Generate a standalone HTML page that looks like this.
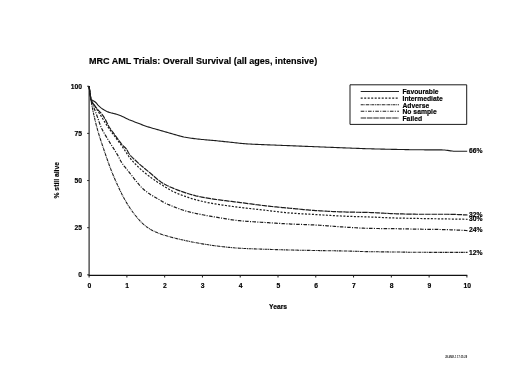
<!DOCTYPE html>
<html lang="en">
<head>
<meta charset="utf-8">
<title>MRC AML Trials: Overall Survival</title>
<style>
html,body{margin:0;padding:0;background:#fff;}
body{width:520px;height:367px;overflow:hidden;}
svg{display:block;}
</style>
</head>
<body>
<svg width="520" height="367" viewBox="0 0 520 367">
<rect width="520" height="367" fill="#fff"/>
<g font-family="'Liberation Sans', Arial, sans-serif" font-weight="bold" fill="#000" stroke="#000" stroke-width="0.16" stroke-linejoin="round">
<text x="88.9" y="63.8" font-size="9.05">MRC AML Trials: Overall Survival (all ages, intensive)</text>
<g stroke="#1a1a1a" stroke-width="1.1" fill="none">
<path d="M89.10 85.95 V275.30"/>
<path d="M88.55 275.30 H467.30" stroke="#111" stroke-width="1.35"/>
<path d="M87.10 274.85 H89.10" stroke-width="0.9"/>
<path d="M87.10 227.70 H89.10" stroke-width="0.9"/>
<path d="M87.10 180.55 H89.10" stroke-width="0.9"/>
<path d="M87.10 133.40 H89.10" stroke-width="0.9"/>
<path d="M87.10 86.25 H89.10" stroke-width="0.9"/>
<path d="M89.10 275.30 V277.50" stroke-width="1"/>
<path d="M126.88 275.30 V277.50" stroke-width="1"/>
<path d="M164.66 275.30 V277.50" stroke-width="1"/>
<path d="M202.44 275.30 V277.50" stroke-width="1"/>
<path d="M240.22 275.30 V277.50" stroke-width="1"/>
<path d="M278.00 275.30 V277.50" stroke-width="1"/>
<path d="M315.78 275.30 V277.50" stroke-width="1"/>
<path d="M353.56 275.30 V277.50" stroke-width="1"/>
<path d="M391.34 275.30 V277.50" stroke-width="1"/>
<path d="M429.12 275.30 V277.50" stroke-width="1"/>
<path d="M466.90 275.30 V277.50" stroke-width="1"/>
</g>
<text x="82" y="277.25" font-size="6.75" text-anchor="end">0</text>
<text x="82" y="230.10" font-size="6.75" text-anchor="end">25</text>
<text x="82" y="182.95" font-size="6.75" text-anchor="end">50</text>
<text x="82" y="135.80" font-size="6.75" text-anchor="end">75</text>
<text x="82" y="88.65" font-size="6.75" text-anchor="end">100</text>
<text x="89.40" y="288.4" font-size="6.75" text-anchor="middle">0</text>
<text x="127.18" y="288.4" font-size="6.75" text-anchor="middle">1</text>
<text x="164.96" y="288.4" font-size="6.75" text-anchor="middle">2</text>
<text x="202.74" y="288.4" font-size="6.75" text-anchor="middle">3</text>
<text x="240.52" y="288.4" font-size="6.75" text-anchor="middle">4</text>
<text x="278.30" y="288.4" font-size="6.75" text-anchor="middle">5</text>
<text x="316.08" y="288.4" font-size="6.75" text-anchor="middle">6</text>
<text x="353.86" y="288.4" font-size="6.75" text-anchor="middle">7</text>
<text x="391.64" y="288.4" font-size="6.75" text-anchor="middle">8</text>
<text x="429.42" y="288.4" font-size="6.75" text-anchor="middle">9</text>
<text x="467.20" y="288.4" font-size="6.75" text-anchor="middle">10</text>
<text x="278.1" y="308.6" font-size="6.75" text-anchor="middle">Years</text>
<text transform="translate(59.4 180.3) rotate(-90)" font-size="6.75" text-anchor="middle">% still alive</text>
<g fill="none" stroke="#1c1c1c" stroke-linejoin="round">
<path d="M89.10 86.40 L90.90 99.60 L92.33 100.22 L93.66 100.95 L94.90 101.77 L96.01 102.73 L97.00 103.88 L97.99 105.06 L99.05 106.13 L100.18 107.15 L101.35 108.12 L102.56 109.01 L103.83 109.82 L105.14 110.58 L106.50 111.28 L107.88 111.88 L109.29 112.37 L110.74 112.77 L112.21 113.14 L113.69 113.49 L115.16 113.86 L116.61 114.30 L118.04 114.79 L119.46 115.31 L120.87 115.86 L122.26 116.44 L123.65 117.04 L125.00 117.71 L126.35 118.40 L127.70 119.08 L129.07 119.70 L130.47 120.27 L131.88 120.82 L133.29 121.35 L134.71 121.89 L136.12 122.43 L137.52 122.98 L138.93 123.54 L140.34 124.09 L141.75 124.63 L143.16 125.17 L144.58 125.69 L146.00 126.20 L147.43 126.68 L148.87 127.14 L150.31 127.57 L151.76 128.00 L153.21 128.41 L154.67 128.81 L156.13 129.22 L157.59 129.62 L159.04 130.03 L160.49 130.44 L161.95 130.86 L163.40 131.29 L164.85 131.71 L166.30 132.13 L167.75 132.55 L169.20 132.97 L170.65 133.38 L172.11 133.79 L173.56 134.20 L175.02 134.61 L176.47 135.04 L177.93 135.46 L179.38 135.87 L180.84 136.26 L182.31 136.62 L183.78 136.96 L185.25 137.25 L186.74 137.51 L188.22 137.76 L189.72 137.99 L191.21 138.21 L192.71 138.41 L194.22 138.61 L195.72 138.79 L197.22 138.97 L198.72 139.13 L200.22 139.29 L201.72 139.43 L203.23 139.57 L204.73 139.70 L206.24 139.83 L207.74 139.96 L209.25 140.08 L210.76 140.21 L212.26 140.34 L213.77 140.48 L215.27 140.63 L216.77 140.78 L218.27 140.94 L219.78 141.10 L221.28 141.26 L222.78 141.42 L224.28 141.59 L225.78 141.75 L227.29 141.92 L228.79 142.07 L230.29 142.23 L231.79 142.39 L233.30 142.55 L234.80 142.71 L236.30 142.88 L237.80 143.04 L239.31 143.20 L240.81 143.35 L242.31 143.49 L243.82 143.63 L245.32 143.75 L246.83 143.86 L248.33 143.95 L249.84 144.04 L251.35 144.12 L252.86 144.20 L254.36 144.28 L255.87 144.35 L257.38 144.41 L258.89 144.48 L260.40 144.54 L261.91 144.60 L263.42 144.66 L264.93 144.72 L266.44 144.78 L267.95 144.83 L269.46 144.89 L270.97 144.94 L272.48 145.00 L273.99 145.06 L275.50 145.12 L277.01 145.18 L278.52 145.24 L280.03 145.30 L281.54 145.37 L283.05 145.43 L284.56 145.49 L286.07 145.55 L287.58 145.61 L289.09 145.67 L290.60 145.73 L292.10 145.79 L293.61 145.85 L295.12 145.91 L296.63 145.97 L298.14 146.03 L299.65 146.09 L301.16 146.15 L302.67 146.21 L304.18 146.27 L305.69 146.33 L307.20 146.39 L308.71 146.45 L310.22 146.51 L311.73 146.57 L313.24 146.63 L314.75 146.69 L316.26 146.75 L317.77 146.81 L319.27 146.87 L320.78 146.93 L322.29 146.99 L323.80 147.06 L325.31 147.12 L326.82 147.18 L328.33 147.24 L329.84 147.30 L331.35 147.36 L332.86 147.42 L334.37 147.48 L335.88 147.54 L337.39 147.60 L338.90 147.66 L340.41 147.72 L341.92 147.78 L343.43 147.84 L344.94 147.90 L346.44 147.95 L347.95 148.01 L349.46 148.07 L350.97 148.13 L352.48 148.19 L353.99 148.25 L355.50 148.30 L357.01 148.36 L358.52 148.42 L360.03 148.47 L361.54 148.53 L363.05 148.58 L364.56 148.63 L366.07 148.68 L367.58 148.73 L369.09 148.77 L370.60 148.82 L372.11 148.86 L373.62 148.90 L375.13 148.94 L376.64 148.98 L378.15 149.02 L379.66 149.06 L381.17 149.10 L382.68 149.13 L384.19 149.17 L385.70 149.20 L387.21 149.24 L388.72 149.27 L390.23 149.30 L391.74 149.34 L393.25 149.37 L394.76 149.40 L396.27 149.42 L397.78 149.45 L399.29 149.48 L400.80 149.51 L402.31 149.54 L403.83 149.57 L405.34 149.60 L406.85 149.63 L408.36 149.65 L409.87 149.68 L411.38 149.70 L412.89 149.72 L414.40 149.74 L415.91 149.76 L417.42 149.78 L418.93 149.79 L420.44 149.80 L421.95 149.81 L423.46 149.82 L424.97 149.83 L426.49 149.83 L428.00 149.84 L429.51 149.84 L431.02 149.84 L432.53 149.85 L434.04 149.85 L435.56 149.86 L437.07 149.87 L438.57 149.87 L440.08 149.88 L441.59 149.90 L443.10 149.93 L444.60 150.04 L446.10 150.21 L447.60 150.41 L449.11 150.63 L450.61 150.85 L452.11 151.04 L453.61 151.20 L455.12 151.28 L456.62 151.30 L458.13 151.30 L459.64 151.30 L461.15 151.30 L462.66 151.30 L464.17 151.30 L465.69 151.30 L467.20 151.30" stroke-width="1.10"/>
<path d="M89.10 86.40 L91.00 100.20 L91.81 101.48 L92.64 102.75 L93.49 103.99 L94.37 105.22 L95.26 106.43 L96.18 107.63 L97.10 108.81 L98.06 109.96 L99.09 111.07 L100.13 112.17 L101.15 113.28 L102.09 114.45 L102.96 115.67 L103.80 116.93 L104.60 118.22 L105.35 119.52 L106.05 120.85 L106.69 122.22 L107.33 123.59 L107.99 124.94 L108.73 126.24 L109.52 127.52 L110.35 128.77 L111.21 130.01 L112.09 131.24 L112.99 132.45 L113.90 133.67 L114.80 134.88 L115.70 136.09 L116.59 137.31 L117.47 138.53 L118.36 139.76 L119.25 140.98 L120.16 142.18 L121.08 143.37 L122.03 144.54 L123.02 145.66 L124.12 146.72 L125.23 147.76 L126.25 148.85 L127.09 150.07 L127.79 151.42 L128.49 152.78 L129.30 154.02 L130.22 155.18 L131.20 156.30 L132.25 157.39 L133.34 158.46 L134.45 159.50 L135.58 160.53 L136.70 161.56 L137.80 162.58 L138.91 163.60 L140.04 164.60 L141.17 165.59 L142.32 166.56 L143.48 167.53 L144.64 168.50 L145.80 169.45 L146.97 170.41 L148.14 171.37 L149.30 172.32 L150.46 173.29 L151.61 174.27 L152.76 175.27 L153.90 176.27 L155.04 177.28 L156.19 178.27 L157.35 179.25 L158.53 180.20 L159.72 181.11 L160.93 181.98 L162.17 182.79 L163.44 183.56 L164.74 184.29 L166.07 184.99 L167.42 185.67 L168.79 186.32 L170.17 186.95 L171.56 187.56 L172.96 188.16 L174.35 188.74 L175.74 189.30 L177.14 189.85 L178.55 190.38 L179.96 190.90 L181.38 191.41 L182.81 191.91 L184.24 192.39 L185.68 192.86 L187.12 193.32 L188.56 193.76 L190.00 194.20 L191.44 194.62 L192.89 195.04 L194.35 195.43 L195.81 195.81 L197.27 196.15 L198.74 196.47 L200.22 196.77 L201.69 197.06 L203.18 197.35 L204.66 197.62 L206.14 197.88 L207.63 198.14 L209.12 198.38 L210.61 198.62 L212.10 198.86 L213.59 199.09 L215.08 199.31 L216.57 199.53 L218.06 199.74 L219.55 199.95 L221.04 200.15 L222.54 200.34 L224.03 200.54 L225.53 200.72 L227.02 200.91 L228.52 201.09 L230.02 201.27 L231.51 201.45 L233.01 201.63 L234.51 201.81 L236.00 202.00 L237.50 202.18 L238.99 202.37 L240.49 202.56 L241.98 202.76 L243.48 202.96 L244.97 203.16 L246.46 203.36 L247.96 203.56 L249.45 203.76 L250.94 203.96 L252.44 204.17 L253.93 204.37 L255.42 204.56 L256.92 204.76 L258.41 204.95 L259.91 205.14 L261.40 205.33 L262.90 205.51 L264.39 205.68 L265.89 205.85 L267.39 206.02 L268.89 206.18 L270.39 206.34 L271.88 206.49 L273.38 206.65 L274.88 206.80 L276.38 206.95 L277.88 207.09 L279.38 207.24 L280.88 207.39 L282.38 207.53 L283.88 207.67 L285.38 207.81 L286.88 207.96 L288.38 208.10 L289.88 208.24 L291.38 208.38 L292.88 208.53 L294.38 208.67 L295.88 208.82 L297.38 208.97 L298.88 209.12 L300.38 209.26 L301.88 209.41 L303.38 209.55 L304.89 209.69 L306.39 209.83 L307.89 209.96 L309.39 210.08 L310.89 210.20 L312.39 210.32 L313.89 210.43 L315.40 210.53 L316.90 210.62 L318.40 210.72 L319.91 210.81 L321.41 210.90 L322.92 210.99 L324.42 211.08 L325.92 211.17 L327.43 211.25 L328.93 211.33 L330.44 211.41 L331.95 211.49 L333.45 211.56 L334.96 211.63 L336.46 211.69 L337.97 211.76 L339.47 211.82 L340.98 211.87 L342.49 211.92 L343.99 211.97 L345.50 212.01 L347.00 212.05 L348.51 212.09 L350.02 212.12 L351.52 212.15 L353.03 212.18 L354.54 212.20 L356.04 212.23 L357.55 212.25 L359.06 212.27 L360.56 212.30 L362.07 212.32 L363.58 212.35 L365.08 212.38 L366.59 212.41 L368.10 212.45 L369.60 212.49 L371.11 212.53 L372.61 212.59 L374.12 212.66 L375.62 212.73 L377.13 212.81 L378.63 212.89 L380.14 212.98 L381.64 213.07 L383.15 213.16 L384.65 213.26 L386.16 213.34 L387.66 213.43 L389.17 213.51 L390.67 213.58 L392.18 213.65 L393.68 213.71 L395.19 213.76 L396.69 213.80 L398.20 213.84 L399.71 213.89 L401.21 213.93 L402.72 213.97 L404.23 214.01 L405.73 214.05 L407.24 214.08 L408.75 214.12 L410.25 214.15 L411.76 214.17 L413.27 214.20 L414.77 214.22 L416.28 214.23 L417.79 214.24 L419.29 214.25 L420.80 214.25 L422.31 214.25 L423.81 214.25 L425.32 214.25 L426.83 214.25 L428.33 214.25 L429.84 214.25 L431.35 214.25 L432.86 214.25 L434.36 214.25 L435.87 214.25 L437.38 214.25 L438.88 214.25 L440.39 214.25 L441.90 214.25 L443.40 214.25 L444.91 214.25 L446.42 214.25 L447.92 214.27 L449.43 214.29 L450.93 214.32 L452.44 214.36 L453.95 214.41 L455.45 214.46 L456.96 214.51 L458.47 214.58 L459.97 214.64 L461.48 214.71 L462.98 214.78 L464.49 214.85 L465.99 214.93 L467.50 215.00" stroke-width="1.20" stroke-dasharray="5.5 0.8"/>
<path d="M89.10 86.40 L91.00 100.20 L91.82 101.47 L92.63 102.73 L93.45 104.00 L94.26 105.27 L95.07 106.53 L95.88 107.80 L96.69 109.07 L97.50 110.34 L98.31 111.62 L99.11 112.89 L99.92 114.16 L100.71 115.44 L101.50 116.72 L102.29 118.01 L103.08 119.29 L103.86 120.58 L104.66 121.86 L105.46 123.13 L106.28 124.40 L107.10 125.65 L107.94 126.90 L108.79 128.14 L109.65 129.37 L110.52 130.60 L111.40 131.83 L112.28 133.05 L113.17 134.26 L114.07 135.48 L114.96 136.69 L115.86 137.90 L116.76 139.11 L117.66 140.32 L118.55 141.53 L119.45 142.74 L120.34 143.96 L121.22 145.18 L122.10 146.40 L122.97 147.63 L123.83 148.87 L124.67 150.12 L125.50 151.38 L126.32 152.65 L127.14 153.92 L127.97 155.18 L128.82 156.42 L129.71 157.62 L130.64 158.80 L131.59 159.96 L132.58 161.10 L133.59 162.22 L134.62 163.33 L135.67 164.42 L136.73 165.49 L137.80 166.54 L138.88 167.58 L139.99 168.60 L141.10 169.61 L142.23 170.61 L143.38 171.60 L144.54 172.57 L145.70 173.53 L146.88 174.48 L148.06 175.41 L149.25 176.33 L150.45 177.24 L151.66 178.13 L152.88 179.00 L154.12 179.86 L155.36 180.72 L156.62 181.55 L157.88 182.38 L159.15 183.20 L160.42 184.01 L161.70 184.80 L162.98 185.60 L164.26 186.39 L165.55 187.18 L166.84 187.96 L168.14 188.74 L169.44 189.50 L170.76 190.24 L172.08 190.96 L173.42 191.64 L174.77 192.29 L176.13 192.91 L177.51 193.50 L178.90 194.08 L180.30 194.63 L181.72 195.17 L183.13 195.69 L184.56 196.19 L185.98 196.69 L187.41 197.17 L188.84 197.64 L190.27 198.11 L191.71 198.56 L193.15 199.00 L194.60 199.42 L196.05 199.82 L197.51 200.20 L198.96 200.56 L200.43 200.92 L201.89 201.26 L203.36 201.60 L204.83 201.92 L206.31 202.24 L207.79 202.54 L209.26 202.84 L210.74 203.13 L212.22 203.40 L213.71 203.67 L215.19 203.93 L216.67 204.18 L218.16 204.41 L219.65 204.64 L221.14 204.85 L222.63 205.07 L224.12 205.28 L225.61 205.49 L227.11 205.70 L228.60 205.90 L230.09 206.11 L231.58 206.31 L233.07 206.51 L234.57 206.71 L236.06 206.90 L237.56 207.10 L239.05 207.28 L240.54 207.47 L242.04 207.65 L243.53 207.82 L245.03 208.00 L246.53 208.17 L248.02 208.34 L249.52 208.50 L251.02 208.67 L252.51 208.83 L254.01 209.00 L255.51 209.16 L257.00 209.32 L258.50 209.49 L260.00 209.65 L261.50 209.81 L262.99 209.98 L264.49 210.14 L265.99 210.31 L267.48 210.49 L268.98 210.66 L270.47 210.84 L271.97 211.03 L273.47 211.21 L274.96 211.40 L276.46 211.58 L277.95 211.76 L279.45 211.94 L280.95 212.11 L282.44 212.28 L283.94 212.44 L285.44 212.59 L286.93 212.74 L288.43 212.87 L289.93 212.99 L291.43 213.11 L292.93 213.22 L294.44 213.32 L295.94 213.42 L297.44 213.52 L298.94 213.61 L300.45 213.70 L301.95 213.78 L303.46 213.86 L304.96 213.95 L306.46 214.03 L307.97 214.11 L309.47 214.19 L310.98 214.27 L312.48 214.36 L313.98 214.44 L315.49 214.53 L316.99 214.62 L318.50 214.71 L320.00 214.80 L321.50 214.89 L323.00 214.99 L324.51 215.08 L326.01 215.17 L327.51 215.27 L329.02 215.36 L330.52 215.45 L332.02 215.54 L333.53 215.62 L335.03 215.71 L336.54 215.79 L338.04 215.87 L339.54 215.95 L341.05 216.02 L342.55 216.09 L344.06 216.16 L345.56 216.22 L347.06 216.28 L348.57 216.34 L350.07 216.39 L351.58 216.44 L353.08 216.48 L354.59 216.53 L356.10 216.57 L357.60 216.62 L359.11 216.66 L360.61 216.71 L362.12 216.75 L363.62 216.79 L365.13 216.84 L366.63 216.89 L368.14 216.94 L369.64 216.99 L371.15 217.04 L372.65 217.10 L374.16 217.16 L375.66 217.22 L377.17 217.29 L378.67 217.36 L380.18 217.42 L381.68 217.49 L383.19 217.56 L384.69 217.62 L386.20 217.69 L387.70 217.75 L389.20 217.81 L390.71 217.86 L392.21 217.92 L393.72 217.96 L395.22 218.01 L396.73 218.04 L398.24 218.08 L399.74 218.12 L401.25 218.15 L402.75 218.18 L404.26 218.21 L405.76 218.24 L407.27 218.27 L408.78 218.30 L410.28 218.33 L411.79 218.36 L413.29 218.38 L414.80 218.41 L416.30 218.44 L417.81 218.46 L419.32 218.49 L420.82 218.51 L422.33 218.54 L423.83 218.57 L425.34 218.59 L426.84 218.61 L428.35 218.64 L429.86 218.66 L431.36 218.69 L432.87 218.71 L434.37 218.73 L435.88 218.75 L437.39 218.78 L438.89 218.80 L440.40 218.82 L441.90 218.85 L443.41 218.87 L444.91 218.90 L446.42 218.92 L447.93 218.95 L449.43 218.98 L450.94 219.00 L452.44 219.03 L453.95 219.05 L455.45 219.08 L456.96 219.11 L458.47 219.13 L459.97 219.16 L461.48 219.19 L462.98 219.22 L464.49 219.24 L465.99 219.27 L467.50 219.30" stroke-width="1.20" stroke-dasharray="2 1.5"/>
<path d="M89.10 86.40 L91.00 100.20 L91.55 101.61 L92.10 103.01 L92.65 104.42 L93.19 105.83 L93.73 107.24 L94.28 108.65 L94.81 110.06 L95.35 111.47 L95.89 112.88 L96.42 114.30 L96.95 115.71 L97.46 117.14 L97.96 118.57 L98.45 120.00 L98.95 121.44 L99.45 122.86 L99.98 124.28 L100.52 125.68 L101.09 127.07 L101.70 128.44 L102.36 129.79 L103.05 131.13 L103.78 132.45 L104.53 133.77 L105.30 135.07 L106.08 136.38 L106.86 137.67 L107.63 138.97 L108.41 140.27 L109.20 141.55 L110.01 142.83 L110.82 144.11 L111.63 145.38 L112.44 146.66 L113.24 147.93 L114.04 149.22 L114.84 150.50 L115.64 151.78 L116.43 153.07 L117.21 154.36 L117.96 155.67 L118.68 157.00 L119.37 158.36 L120.05 159.71 L120.76 161.04 L121.51 162.34 L122.33 163.60 L123.20 164.82 L124.12 166.01 L125.07 167.19 L126.04 168.36 L127.01 169.53 L127.97 170.70 L128.90 171.89 L129.83 173.08 L130.75 174.28 L131.67 175.48 L132.59 176.68 L133.52 177.87 L134.46 179.05 L135.42 180.22 L136.37 181.39 L137.33 182.56 L138.30 183.73 L139.28 184.89 L140.28 186.02 L141.31 187.12 L142.38 188.17 L143.48 189.19 L144.63 190.18 L145.80 191.14 L147.00 192.08 L148.22 192.98 L149.45 193.84 L150.71 194.66 L152.00 195.44 L153.31 196.20 L154.62 196.96 L155.93 197.72 L157.23 198.50 L158.52 199.29 L159.81 200.08 L161.11 200.86 L162.41 201.62 L163.73 202.35 L165.07 203.03 L166.43 203.68 L167.80 204.31 L169.19 204.90 L170.59 205.48 L171.99 206.05 L173.40 206.61 L174.80 207.16 L176.21 207.71 L177.63 208.25 L179.04 208.78 L180.47 209.29 L181.90 209.78 L183.33 210.25 L184.77 210.68 L186.22 211.09 L187.68 211.49 L189.14 211.86 L190.61 212.22 L192.08 212.56 L193.56 212.90 L195.03 213.22 L196.51 213.54 L197.99 213.85 L199.47 214.16 L200.95 214.46 L202.43 214.75 L203.91 215.03 L205.40 215.31 L206.88 215.59 L208.37 215.86 L209.86 216.12 L211.35 216.38 L212.83 216.63 L214.32 216.89 L215.81 217.14 L217.30 217.39 L218.79 217.64 L220.28 217.90 L221.77 218.15 L223.26 218.40 L224.76 218.65 L226.25 218.90 L227.74 219.14 L229.23 219.37 L230.73 219.60 L232.22 219.81 L233.72 220.02 L235.22 220.22 L236.71 220.40 L238.21 220.57 L239.71 220.72 L241.21 220.86 L242.71 221.00 L244.22 221.12 L245.72 221.24 L247.23 221.36 L248.73 221.47 L250.24 221.57 L251.75 221.67 L253.26 221.77 L254.76 221.87 L256.27 221.96 L257.78 222.05 L259.29 222.14 L260.80 222.24 L262.31 222.33 L263.82 222.42 L265.32 222.52 L266.83 222.62 L268.34 222.72 L269.84 222.81 L271.35 222.91 L272.86 223.01 L274.37 223.11 L275.87 223.20 L277.38 223.29 L278.89 223.39 L280.40 223.48 L281.90 223.57 L283.41 223.65 L284.92 223.74 L286.43 223.82 L287.94 223.90 L289.44 223.97 L290.95 224.04 L292.46 224.11 L293.97 224.18 L295.48 224.24 L296.99 224.29 L298.50 224.35 L300.01 224.40 L301.52 224.46 L303.03 224.51 L304.54 224.56 L306.05 224.62 L307.55 224.68 L309.06 224.73 L310.57 224.80 L312.08 224.86 L313.59 224.93 L315.10 225.00 L316.61 225.09 L318.11 225.17 L319.62 225.27 L321.13 225.36 L322.63 225.47 L324.14 225.57 L325.65 225.68 L327.15 225.80 L328.66 225.91 L330.17 226.03 L331.67 226.15 L333.18 226.26 L334.68 226.38 L336.19 226.49 L337.70 226.61 L339.20 226.72 L340.71 226.82 L342.22 226.92 L343.72 227.02 L345.23 227.11 L346.74 227.21 L348.25 227.30 L349.75 227.39 L351.26 227.49 L352.77 227.59 L354.28 227.68 L355.79 227.77 L357.29 227.86 L358.80 227.95 L360.31 228.03 L361.82 228.11 L363.33 228.18 L364.84 228.24 L366.34 228.30 L367.85 228.35 L369.36 228.39 L370.87 228.42 L372.38 228.44 L373.89 228.47 L375.40 228.49 L376.91 228.51 L378.42 228.52 L379.93 228.54 L381.44 228.55 L382.95 228.57 L384.46 228.58 L385.97 228.60 L387.48 228.61 L388.99 228.63 L390.50 228.64 L392.02 228.66 L393.53 228.68 L395.04 228.70 L396.55 228.72 L398.06 228.75 L399.57 228.78 L401.08 228.81 L402.59 228.84 L404.10 228.87 L405.61 228.90 L407.12 228.93 L408.63 228.97 L410.14 229.00 L411.65 229.03 L413.16 229.06 L414.67 229.10 L416.18 229.13 L417.69 229.16 L419.20 229.19 L420.71 229.21 L422.22 229.24 L423.73 229.26 L425.24 229.28 L426.75 229.30 L428.26 229.32 L429.77 229.34 L431.28 229.36 L432.79 229.39 L434.30 229.41 L435.81 229.43 L437.32 229.45 L438.83 229.48 L440.34 229.50 L441.85 229.53 L443.36 229.56 L444.87 229.60 L446.38 229.63 L447.89 229.68 L449.40 229.73 L450.90 229.78 L452.41 229.84 L453.92 229.90 L455.43 229.97 L456.94 230.04 L458.45 230.11 L459.96 230.18 L461.47 230.26 L462.98 230.34 L464.48 230.43 L465.99 230.51 L467.50 230.60" stroke-width="1.20" stroke-dasharray="3.6 1.3 1.1 1.3"/>
<path d="M89.10 86.40 L91.00 100.20 L91.25 101.69 L91.51 103.18 L91.78 104.67 L92.05 106.16 L92.34 107.64 L92.63 109.12 L92.93 110.60 L93.24 112.08 L93.56 113.56 L93.88 115.03 L94.21 116.50 L94.55 117.97 L94.89 119.44 L95.24 120.90 L95.59 122.37 L95.95 123.83 L96.32 125.29 L96.69 126.74 L97.08 128.20 L97.48 129.65 L97.89 131.10 L98.32 132.54 L98.75 133.99 L99.20 135.43 L99.65 136.87 L100.11 138.31 L100.58 139.74 L101.05 141.18 L101.53 142.61 L102.00 144.05 L102.48 145.48 L102.97 146.91 L103.45 148.34 L103.92 149.77 L104.40 151.20 L104.88 152.63 L105.36 154.06 L105.85 155.49 L106.34 156.92 L106.83 158.34 L107.33 159.77 L107.83 161.19 L108.34 162.61 L108.85 164.03 L109.37 165.45 L109.90 166.86 L110.43 168.27 L110.97 169.67 L111.52 171.08 L112.08 172.48 L112.65 173.88 L113.23 175.27 L113.81 176.66 L114.40 178.05 L115.00 179.44 L115.61 180.82 L116.22 182.20 L116.85 183.57 L117.47 184.94 L118.10 186.31 L118.74 187.68 L119.38 189.05 L120.03 190.41 L120.69 191.77 L121.35 193.13 L122.03 194.48 L122.72 195.82 L123.43 197.16 L124.14 198.48 L124.88 199.79 L125.63 201.09 L126.39 202.39 L127.17 203.69 L127.96 204.98 L128.77 206.27 L129.60 207.54 L130.44 208.81 L131.29 210.06 L132.17 211.29 L133.06 212.51 L133.97 213.70 L134.89 214.87 L135.84 216.02 L136.81 217.19 L137.80 218.35 L138.81 219.51 L139.84 220.65 L140.90 221.77 L141.97 222.86 L143.07 223.91 L144.20 224.92 L145.34 225.89 L146.51 226.79 L147.70 227.63 L148.93 228.43 L150.21 229.20 L151.53 229.94 L152.88 230.64 L154.25 231.32 L155.65 231.96 L157.05 232.57 L158.46 233.15 L159.86 233.70 L161.26 234.21 L162.68 234.70 L164.12 235.15 L165.56 235.59 L167.02 236.01 L168.48 236.42 L169.94 236.82 L171.40 237.21 L172.86 237.60 L174.32 237.98 L175.78 238.35 L177.24 238.71 L178.71 239.07 L180.18 239.41 L181.65 239.75 L183.12 240.08 L184.59 240.41 L186.07 240.73 L187.54 241.05 L189.02 241.36 L190.49 241.66 L191.97 241.96 L193.45 242.25 L194.94 242.53 L196.42 242.81 L197.90 243.07 L199.39 243.33 L200.87 243.59 L202.36 243.85 L203.85 244.10 L205.34 244.34 L206.83 244.58 L208.32 244.82 L209.81 245.04 L211.30 245.26 L212.80 245.46 L214.29 245.66 L215.79 245.85 L217.28 246.03 L218.78 246.21 L220.28 246.39 L221.78 246.57 L223.28 246.74 L224.78 246.91 L226.28 247.08 L227.78 247.24 L229.28 247.39 L230.78 247.54 L232.29 247.68 L233.79 247.81 L235.29 247.93 L236.80 248.04 L238.30 248.15 L239.80 248.24 L241.31 248.32 L242.81 248.40 L244.32 248.48 L245.82 248.55 L247.33 248.61 L248.84 248.68 L250.34 248.74 L251.85 248.80 L253.36 248.85 L254.87 248.91 L256.38 248.96 L257.88 249.01 L259.39 249.06 L260.90 249.11 L262.41 249.16 L263.92 249.21 L265.42 249.26 L266.93 249.32 L268.44 249.37 L269.95 249.42 L271.45 249.47 L272.96 249.52 L274.47 249.56 L275.98 249.61 L277.48 249.66 L278.99 249.70 L280.50 249.75 L282.01 249.79 L283.51 249.83 L285.02 249.87 L286.53 249.91 L288.04 249.95 L289.54 249.99 L291.05 250.02 L292.56 250.06 L294.07 250.09 L295.58 250.13 L297.08 250.16 L298.59 250.19 L300.10 250.22 L301.61 250.25 L303.12 250.28 L304.62 250.31 L306.13 250.34 L307.64 250.37 L309.15 250.39 L310.66 250.42 L312.16 250.45 L313.67 250.48 L315.18 250.50 L316.69 250.53 L318.20 250.56 L319.70 250.58 L321.21 250.61 L322.72 250.63 L324.23 250.65 L325.74 250.68 L327.25 250.70 L328.75 250.72 L330.26 250.74 L331.77 250.77 L333.28 250.79 L334.79 250.81 L336.29 250.84 L337.80 250.86 L339.31 250.89 L340.82 250.92 L342.33 250.95 L343.83 250.98 L345.34 251.01 L346.85 251.04 L348.36 251.08 L349.87 251.12 L351.37 251.17 L352.88 251.21 L354.39 251.26 L355.90 251.31 L357.40 251.36 L358.91 251.41 L360.42 251.46 L361.93 251.50 L363.43 251.55 L364.94 251.59 L366.45 251.63 L367.96 251.66 L369.47 251.69 L370.97 251.72 L372.48 251.74 L373.99 251.76 L375.50 251.78 L377.01 251.80 L378.51 251.82 L380.02 251.84 L381.53 251.85 L383.04 251.87 L384.55 251.89 L386.05 251.90 L387.56 251.92 L389.07 251.93 L390.58 251.95 L392.09 251.97 L393.60 251.98 L395.10 252.00 L396.61 252.02 L398.12 252.04 L399.63 252.06 L401.14 252.08 L402.64 252.10 L404.15 252.13 L405.66 252.15 L407.17 252.17 L408.68 252.19 L410.19 252.21 L411.69 252.23 L413.20 252.25 L414.71 252.26 L416.22 252.28 L417.73 252.29 L419.23 252.30 L420.74 252.30 L422.25 252.31 L423.76 252.31 L425.27 252.32 L426.78 252.32 L428.28 252.33 L429.79 252.33 L431.30 252.34 L432.81 252.34 L434.32 252.35 L435.83 252.35 L437.33 252.36 L438.84 252.36 L440.35 252.37 L441.86 252.37 L443.37 252.37 L444.88 252.38 L446.38 252.38 L447.89 252.38 L449.40 252.38 L450.91 252.39 L452.42 252.39 L453.93 252.39 L455.43 252.39 L456.94 252.39 L458.45 252.40 L459.96 252.40 L461.47 252.40 L462.97 252.40 L464.48 252.40 L465.99 252.40 L467.50 252.40" stroke-width="1.10" stroke-dasharray="3 0.7 0.9 0.7"/>
</g>
<text x="469.0" y="153.4" font-size="6.75">66%</text>
<text x="469.0" y="217.0" font-size="6.75">32%</text>
<text x="469.0" y="221.0" font-size="6.75">30%</text>
<text x="469.0" y="232.0" font-size="6.75">24%</text>
<text x="469.0" y="254.9" font-size="6.75">12%</text>
<rect x="350" y="84.8" width="116.7" height="39.6" fill="#fff" stroke="#1a1a1a" stroke-width="1"/>
<path d="M360.7 91.50 H399" stroke="#222" stroke-width="1.05" fill="none"/>
<text x="402.5" y="93.90" font-size="6.75">Favourable</text>
<path d="M360.7 98.10 H399" stroke="#222" stroke-width="1.05" fill="none" stroke-dasharray="2 1.5"/>
<text x="402.5" y="100.50" font-size="6.75">Intermediate</text>
<path d="M360.7 104.75 H399" stroke="#222" stroke-width="1.05" fill="none" stroke-dasharray="3 0.7 0.9 0.7"/>
<text x="402.5" y="107.50" font-size="6.75">Adverse</text>
<path d="M360.7 111.30 H399" stroke="#222" stroke-width="1.05" fill="none" stroke-dasharray="3.6 1.3 1.1 1.3"/>
<text x="402.5" y="114.00" font-size="6.75">No sample</text>
<path d="M360.7 117.90 H399" stroke="#222" stroke-width="1.05" fill="none" stroke-dasharray="5.5 0.8"/>
<text x="402.5" y="120.50" font-size="6.75">Failed</text>
<text x="445.2" y="358.1" font-size="2.9" font-weight="bold" fill="#222" stroke="none" textLength="22" lengthAdjust="spacingAndGlyphs">28-MAY-1 17:15:29</text>
</g>
</svg>
</body>
</html>
